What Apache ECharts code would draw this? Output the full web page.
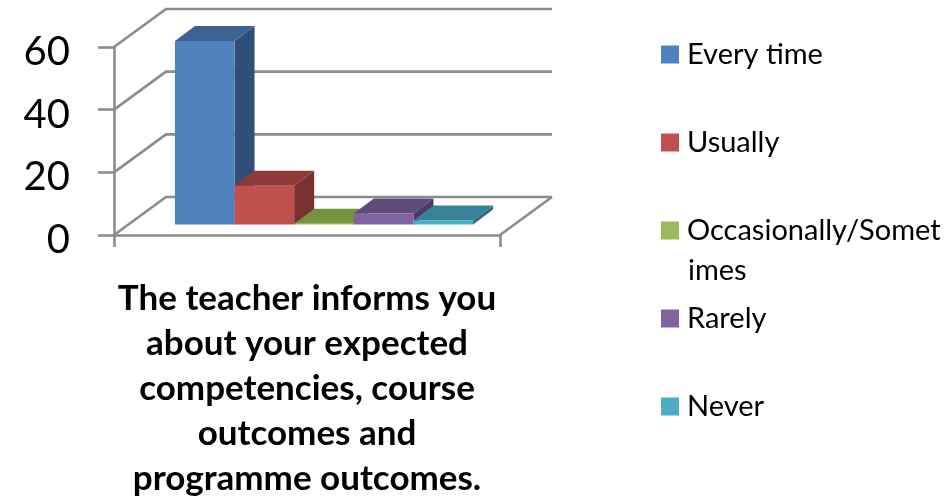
<!DOCTYPE html>
<html><head><meta charset="utf-8">
<style>html,body{margin:0;padding:0;background:#fff}#c{width:949px;height:501px}</style>
<script src="https://cdn.jsdelivr.net/npm/echarts@6/dist/echarts.min.js"></script>
</head><body><div id="c"></div>
<script>
const categories = ["The teacher informs you\nabout your expected\ncompetencies, course\noutcomes and\nprogramme outcomes."];
const seriesNames = ["Every time", "Usually", "Occasionally/Sometimes", "Rarely", "Never"];
const seriesValues = [58.6, 12.4, 0.2, 3.5, 1.3];
const tickValues = [0, 20, 40, 60];
const frontColors = ["#4F81BD", "#C0504D", "#9BBB59", "#8064A2", "#4BACC6"];
const topColors = ["#3B6391", "#8F3A38", "#76923C", "#5F4A7C", "#37839A"];
const sideColors = ["#2F4F7A", "#7A302E", "#5F7A30", "#4C3B66", "#2C6C80"];

const FONT = "Lato";
const GRAY = "#8c8c8c";
const LINE_W = 2.6;
const wallDepth = [52, 38];
const barDepth = [20, 15];
const barShift = [17, 10.5];
const barShare = 0.1545;

function renderWall(params, api) {
  const p = api.coord([0, api.value(1)]);
  const band = api.size([1, 0])[0];
  const x0 = p[0] - band / 2, x1 = p[0] + band / 2;
  const style = { stroke: GRAY, lineWidth: LINE_W, fill: null };
  const isFloor = api.value(1) === 0;
  const children = [
    { type: "line", shape: { x1: x0, y1: p[1], x2: x0 + wallDepth[0], y2: p[1] - wallDepth[1] }, style },
    { type: "line", shape: { x1: x0 + wallDepth[0] - 1, y1: p[1] - wallDepth[1], x2: x1 + wallDepth[0], y2: p[1] - wallDepth[1] }, style }
  ];
  if (isFloor) {
    children.push({ type: "line", shape: { x1: x1, y1: p[1], x2: x1 + wallDepth[0], y2: p[1] - wallDepth[1] }, style });
  }
  return { type: "group", children };
}

function renderBar(params, api) {
  const i = params.seriesIndex - 1;
  const top = api.coord([0, api.value(1)]);
  const base = api.coord([0, 0]);
  const band = api.size([1, 0])[0];
  const w = band * barShare;
  const x0 = top[0] + barShift[0] + (i - 2.5) * w, x1 = x0 + w;
  const yT = top[1] - barShift[1], yB = base[1] - barShift[1];
  const dx = barDepth[0], dy = barDepth[1];
  return { type: "group", children: [
    { type: "polygon", shape: { points: [[x1, yT], [x1 + dx, yT - dy], [x1 + dx, yB - dy], [x1, yB]] }, style: { fill: sideColors[i] } },
    { type: "polygon", shape: { points: [[x0, yT], [x0 + dx, yT - dy], [x1 + dx, yT - dy], [x1, yT]] }, style: { fill: topColors[i] } },
    { type: "rect", shape: { x: x0, y: yT, width: w, height: yB - yT }, style: { fill: frontColors[i] } }
  ]};
}

const series = [{
  type: "custom", name: "walls", silent: true, clip: false, renderItem: renderWall,
  encode: { x: 0, y: 1 }, data: tickValues.map(t => [0, t]), z: 1
}].concat(seriesNames.map((name, i) => ({
  type: "custom", name, clip: false, renderItem: renderBar,
  encode: { x: 0, y: 1 }, data: [[0, seriesValues[i]]],
  itemStyle: { color: frontColors[i] }, z: 2
})));

const chart = echarts.init(document.getElementById("c"), null, { renderer: "canvas" });
chart.setOption({
  animation: false,
  backgroundColor: "#fff",
  textStyle: { fontFamily: FONT },
  grid: { left: 114, top: 47, width: 386, height: 189, containLabel: false },
  xAxis: {
    type: "category", data: categories,
    axisLine: { show: true, onZero: true, lineStyle: { color: GRAY, width: LINE_W } },
    axisTick: { show: true, length: 12, lineStyle: { color: GRAY, width: LINE_W } },
    axisLabel: { fontFamily: FONT, fontWeight: "bold", fontSize: 35, color: "#000", lineHeight: 45, margin: 41, interval: 0, align: "center" }
  },
  yAxis: {
    type: "value", min: 0, max: 60, interval: 20,
    axisLine: { show: true, lineStyle: { color: GRAY, width: LINE_W } },
    axisTick: { show: true, length: 16, lineStyle: { color: GRAY, width: LINE_W } },
    splitLine: { show: false },
    axisLabel: { fontFamily: FONT, fontSize: 40, color: "#000", margin: 44, verticalAlign: "top", lineHeight: 10 }
  },
  legend: {
    orient: "vertical", left: 656, top: 35, itemWidth: 18, itemHeight: 18, itemGap: 59,
    icon: "rect", selectedMode: false, data: seriesNames,
    formatter: n => n === "Occasionally/Sometimes" ? "Occasionally/Somet" : n,
    textStyle: { fontFamily: FONT, fontSize: 29, color: "#000", lineHeight: 18, padding: [0, 0, 0, 3] }
  },
  graphic: [{ type: "text", left: 688, top: 256, style: { text: "imes", font: "29px " + FONT, fill: "#000" } }],
  series
});
</script></body></html>
